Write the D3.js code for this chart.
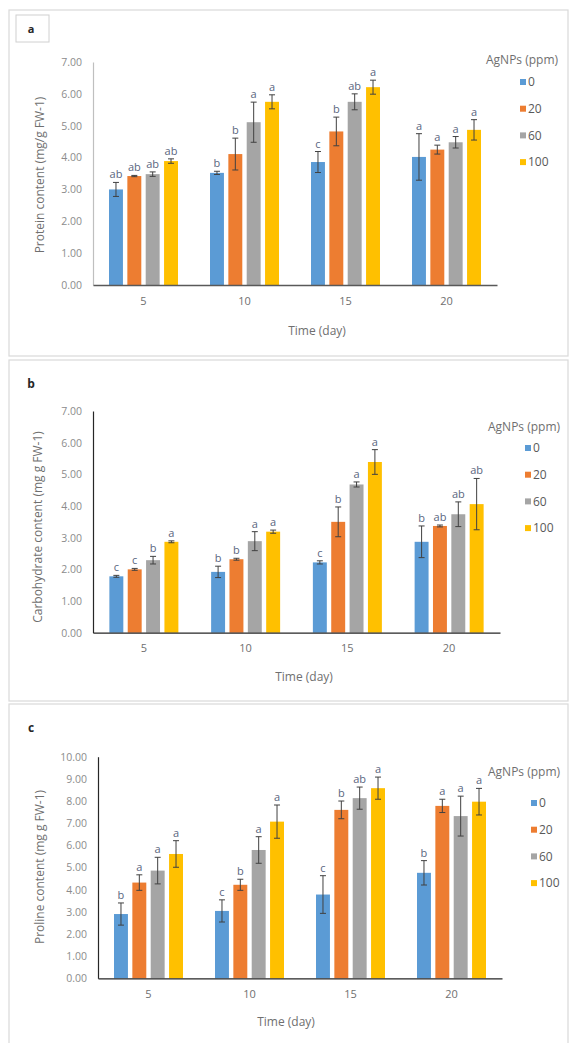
<!DOCTYPE html>
<html>
<head>
<meta charset="utf-8">
<script src="https://cdn.jsdelivr.net/npm/d3@7"></script>
<style>
  body { margin: 0; background: #fff; }
  svg { display: block; font-family: 'Open Sans', sans-serif; }
</style>
</head>
<body>
<svg id="chart" width="571" height="1043"></svg>
<script>
// ---- data ----
const days = ['5', '10', '15', '20']
const doses = ['0', '20', '60', '100']
const doseColors = ['#5b9bd5', '#ed7d31', '#a5a5a5', '#ffc000']

// one row per AgNPs dose, one value per day
const proteinMeans = [
  [3.00, 3.52, 3.86, 4.02],
  [3.42, 4.11, 4.82, 4.25],
  [3.48, 5.11, 5.75, 4.48],
  [3.89, 5.75, 6.21, 4.87]
]
const proteinErrors = [
  [0.22, 0.05, 0.33, 0.73],
  [0.02, 0.50, 0.45, 0.14],
  [0.07, 0.63, 0.25, 0.18],
  [0.07, 0.22, 0.22, 0.32]
]
const proteinLetters = [
  ['ab', 'b', 'c', 'a'],
  ['ab', 'b', 'b', 'a'],
  ['ab', 'a', 'ab', 'a'],
  ['ab', 'a', 'a', 'a']
]

const carbMeans = [
  [1.78, 1.92, 2.22, 2.87],
  [2.00, 2.32, 3.50, 3.37],
  [2.29, 2.89, 4.68, 3.74],
  [2.87, 3.19, 5.39, 4.06]
]
const carbErrors = [
  [0.03, 0.18, 0.05, 0.50],
  [0.03, 0.03, 0.47, 0.03],
  [0.12, 0.30, 0.08, 0.39],
  [0.03, 0.05, 0.39, 0.81]
]
const carbLetters = [
  ['c', 'b', 'c', 'b'],
  ['c', 'b', 'b', 'ab'],
  ['b', 'a', 'a', 'ab'],
  ['a', 'a', 'a', 'ab']
]

const prolineMeans = [
  [2.90, 3.04, 3.78, 4.76],
  [4.32, 4.22, 7.60, 7.78],
  [4.86, 5.79, 8.13, 7.32],
  [5.61, 7.07, 8.58, 7.97]
]
const prolineErrors = [
  [0.50, 0.50, 0.85, 0.55],
  [0.35, 0.25, 0.40, 0.30],
  [0.60, 0.60, 0.50, 0.90],
  [0.60, 0.75, 0.50, 0.60]
]
const prolineLetters = [
  ['b', 'c', 'c', 'b'],
  ['a', 'b', 'b', 'a'],
  ['a', 'a', 'ab', 'a'],
  ['a', 'a', 'a', 'a']
]

// ---- layout of the three panels ----
const panels = [
  {
    tag: 'a', boxed: true, frame: [9, 10, 559, 346],
    left: 93, right: 497, top: 62, bottom: 285, yMax: 7,
    means: proteinMeans, errors: proteinErrors, letters: proteinLetters,
    yTitle: 'Protein content (mg/g FW-1)', yTitleX: 40, yTitleY: 175,
    xTitleX: 317, xTitleY: 331,
    legendX: 486, legendTitleY: 60, legendY0: 82, legendSq: 520,
    yAxisColor: '#bfbfbf', xAxisColor: '#595959'
  },
  {
    tag: 'b', boxed: false, frame: [9, 360, 559, 341],
    left: 93, right: 500, top: 411, bottom: 632.7, yMax: 7,
    means: carbMeans, errors: carbErrors, letters: carbLetters,
    yTitle: 'Carbohydrate content (mg g FW-1)', yTitleX: 38, yTitleY: 527,
    xTitleX: 304, xTitleY: 677,
    legendX: 488, legendTitleY: 427, legendY0: 448, legendSq: 525,
    yAxisColor: '#262626', xAxisColor: '#262626'
  },
  {
    tag: 'c', boxed: false, frame: [9, 704, 559, 350],
    left: 98, right: 502, top: 756.7, bottom: 978.3, yMax: 10,
    means: prolineMeans, errors: prolineErrors, letters: prolineLetters,
    yTitle: 'Proline content (mg g FW-1)', yTitleX: 40, yTitleY: 867,
    xTitleX: 286, xTitleY: 1022,
    legendX: 488, legendTitleY: 772, legendY0: 803, legendSq: 531,
    yAxisColor: '#262626', xAxisColor: '#262626'
  }
]

const svg = d3.select('#chart')

/**
 * Draws one grouped bar panel with error bars, letters and legend.
 *
 * @param {object} p The panel layout and data
 */
function drawPanel (p) {
  const g = svg.append('g')

  g.append('rect')
    .attr('x', p.frame[0]).attr('y', p.frame[1])
    .attr('width', p.frame[2]).attr('height', p.frame[3])
    .attr('fill', '#fff').attr('stroke', '#d9d9d9').attr('stroke-width', 1.2)

  if (p.boxed) {
    g.append('rect')
      .attr('x', 16).attr('y', 15).attr('width', 33).attr('height', 27)
      .attr('fill', 'none').attr('stroke', '#d0d0d0')
    g.append('text')
      .attr('x', 31).attr('y', 33).attr('font-size', 11).attr('font-weight', 700)
      .attr('fill', '#262626').attr('text-anchor', 'middle').text(p.tag)
  } else {
    g.append('text')
      .attr('x', 31).attr('y', p.frame[1] + 28).attr('font-size', 12).attr('font-weight', 700)
      .attr('fill', '#262626').attr('text-anchor', 'middle').text(p.tag)
  }

  const x0 = d3.scaleBand().domain(days).range([p.left, p.right])
  const groupW = 69
  const x1 = d3.scaleBand().domain(doses).range([0, groupW]).paddingInner(0.24)
  const y = d3.scaleLinear().domain([0, p.yMax]).range([p.bottom, p.top])
  const off = (x0.bandwidth() - groupW) / 2

  // y axis
  const yAxis = g.append('g')
    .attr('transform', `translate(${p.left},0)`)
    .call(d3.axisLeft(y)
      .tickValues(d3.range(0, p.yMax + 0.5, 1))
      .tickFormat(d3.format('.2f'))
      .tickSize(0).tickSizeOuter(0).tickPadding(11))
  yAxis.select('.domain').attr('stroke', p.yAxisColor).attr('stroke-width', 1.2)
  yAxis.selectAll('text').attr('font-size', 10.5).attr('fill', '#8c8c8c')
    .attr('font-family', "'Open Sans', sans-serif")

  // bars
  doses.forEach((dose, i) => {
    const rows = days.map((day, j) => ({
      day,
      mean: p.means[i][j],
      err: p.errors[i][j],
      letter: p.letters[i][j]
    }))
    const sg = g.append('g')
    sg.selectAll('rect')
      .data(rows)
      .join('rect')
      .attr('x', d => x0(d.day) + off + x1(dose))
      .attr('y', d => y(d.mean))
      .attr('width', x1.bandwidth())
      .attr('height', d => y(0) - y(d.mean))
      .attr('fill', doseColors[i])

    const cx = d => x0(d.day) + off + x1(dose) + x1.bandwidth() / 2
    sg.selectAll('line.err')
      .data(rows)
      .join('line')
      .attr('class', 'err')
      .attr('x1', cx).attr('x2', cx)
      .attr('y1', d => y(d.mean - d.err)).attr('y2', d => y(d.mean + d.err))
      .attr('stroke', '#404040').attr('stroke-width', 1)
    sg.selectAll('line.cap-top')
      .data(rows)
      .join('line')
      .attr('class', 'cap-top')
      .attr('x1', d => cx(d) - 3).attr('x2', d => cx(d) + 3)
      .attr('y1', d => y(d.mean + d.err)).attr('y2', d => y(d.mean + d.err))
      .attr('stroke', '#404040').attr('stroke-width', 1)
    sg.selectAll('line.cap-bot')
      .data(rows)
      .join('line')
      .attr('class', 'cap-bot')
      .attr('x1', d => cx(d) - 3).attr('x2', d => cx(d) + 3)
      .attr('y1', d => y(d.mean - d.err)).attr('y2', d => y(d.mean - d.err))
      .attr('stroke', '#404040').attr('stroke-width', 1)
    sg.selectAll('text')
      .data(rows)
      .join('text')
      .attr('x', cx)
      .attr('y', d => y(d.mean + d.err) - 4)
      .attr('text-anchor', 'middle')
      .attr('font-size', 11)
      .attr('fill', '#5a6680')
      .text(d => d.letter)
  })

  // x axis
  const xAxis = g.append('g')
    .attr('transform', `translate(0,${p.bottom})`)
    .call(d3.axisBottom(x0).tickSize(0).tickSizeOuter(0).tickPadding(12))
  xAxis.select('.domain').attr('stroke', p.xAxisColor).attr('stroke-width', 1.3)
  xAxis.selectAll('text').attr('font-size', 11).attr('fill', '#6f6f6f')
    .attr('font-family', "'Open Sans', sans-serif")

  // axis titles
  g.append('text')
    .attr('transform', `translate(${p.yTitleX},${p.yTitleY}) rotate(-90)`)
    .attr('text-anchor', 'middle').attr('dy', '0.35em')
    .attr('font-size', 12).attr('fill', '#6f6f6f')
    .text(p.yTitle)
  g.append('text')
    .attr('x', p.xTitleX).attr('y', p.xTitleY)
    .attr('text-anchor', 'middle').attr('dy', '0.35em')
    .attr('font-size', 12).attr('fill', '#6f6f6f')
    .text('Time (day)')

  // legend
  g.append('text')
    .attr('x', p.legendX).attr('y', p.legendTitleY).attr('dy', '0.35em')
    .attr('font-size', 12).attr('fill', '#6f6f6f')
    .text('AgNPs (ppm)')
  const items = g.selectAll('.legend-item')
    .data(doses)
    .join('g')
    .attr('class', 'legend-item')
    .attr('transform', (d, i) => `translate(${p.legendSq},${p.legendY0 + i * 26.7})`)
  items.append('rect')
    .attr('x', 0).attr('y', -3).attr('width', 6).attr('height', 6)
    .attr('fill', (d, i) => doseColors[i])
  items.append('text')
    .attr('x', 8).attr('dy', '0.35em')
    .attr('font-size', 12).attr('fill', '#595959')
    .text(d => d)
}

panels.forEach(drawPanel)
</script>
</body>
</html>
